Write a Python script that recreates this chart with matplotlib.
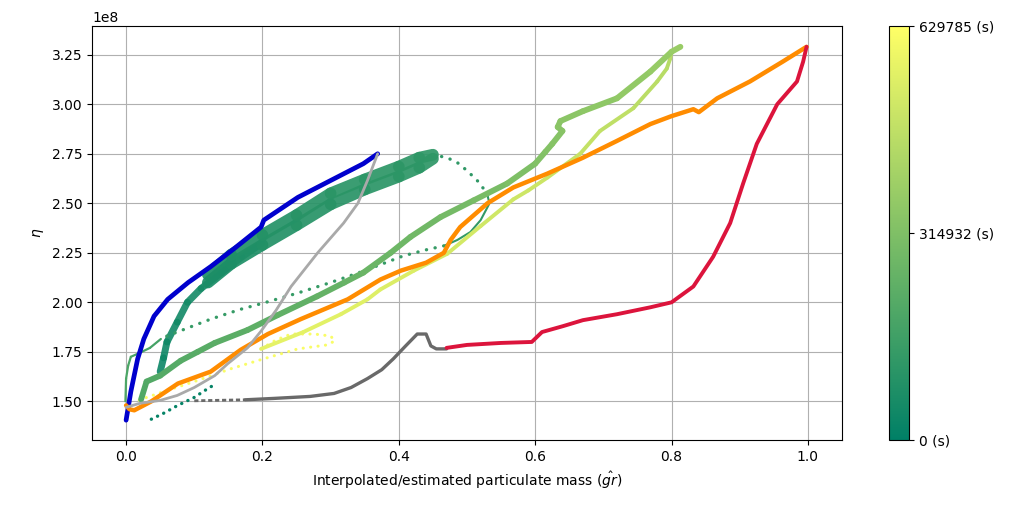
import numpy as np
import matplotlib
matplotlib.use("Agg")
import matplotlib.pyplot as plt
from matplotlib.collections import LineCollection
from matplotlib.colors import Normalize
from matplotlib.cm import ScalarMappable

# time span of the colour scale (s)
T_MAX = 629785
cbar_ticks = [0, 314932, 629785]
cbar_labels = ["0 (s)", "314932 (s)", "629785 (s)"]

# --- fixed-colour runs (x = mass, y = eta / 1e8) ---
blue_x = [0.0, 0.007, 0.017, 0.026, 0.041, 0.061, 0.091, 0.124, 0.158, 0.198, 0.202, 0.252, 0.30, 0.348, 0.369]
blue_y = [1.405, 1.55, 1.715, 1.815, 1.93, 2.015, 2.10, 2.18, 2.27, 2.38, 2.415, 2.53, 2.615, 2.70, 2.75]

lgray_x = [0.0, 0.02, 0.05, 0.075, 0.10, 0.13, 0.149, 0.178, 0.198, 0.22, 0.242, 0.281, 0.319, 0.34, 0.354, 0.369]
lgray_y = [1.47, 1.49, 1.505, 1.53, 1.57, 1.63, 1.69, 1.77, 1.855, 1.96, 2.08, 2.25, 2.40, 2.50, 2.615, 2.75]

dgray_start_x = [0.10, 0.175]
dgray_start_y = [1.503, 1.508]
dgray_x = [0.175, 0.217, 0.27, 0.305, 0.33, 0.354, 0.375, 0.392, 0.41, 0.427, 0.44, 0.447, 0.455, 0.47]
dgray_y = [1.508, 1.515, 1.525, 1.54, 1.57, 1.615, 1.66, 1.715, 1.78, 1.84, 1.84, 1.78, 1.765, 1.765]

red_x = [0.47, 0.50, 0.55, 0.595, 0.61, 0.641, 0.67, 0.72, 0.769, 0.80, 0.832, 0.861, 0.886, 0.905, 0.925, 0.955, 0.984, 0.993, 0.998]
red_y = [1.77, 1.785, 1.795, 1.80, 1.85, 1.88, 1.91, 1.94, 1.975, 2.0, 2.08, 2.23, 2.40, 2.60, 2.80, 3.0, 3.115, 3.215, 3.29]

orange_x = [0.0, 0.005, 0.012, 0.037, 0.076, 0.124, 0.168, 0.208, 0.256, 0.325, 0.373, 0.403, 0.44, 0.466, 0.476,
            0.49, 0.53, 0.568, 0.618, 0.67, 0.72, 0.769, 0.80, 0.832, 0.84, 0.867, 0.915, 0.963, 0.998]
orange_y = [1.48, 1.46, 1.455, 1.50, 1.59, 1.65, 1.76, 1.84, 1.915, 2.015, 2.115, 2.16, 2.20, 2.25, 2.315,
            2.38, 2.50, 2.58, 2.65, 2.73, 2.815, 2.90, 2.94, 2.975, 2.96, 3.03, 3.115, 3.215, 3.29]

# --- runs coloured by elapsed time ---
# A: teal run
a1_x = [0.037, 0.055, 0.076, 0.10, 0.12, 0.13]
a1_y = [1.41, 1.44, 1.48, 1.52, 1.565, 1.585]
a1_t = 15000

a2_x = [0.05, 0.055, 0.06, 0.075, 0.09, 0.11, 0.14, 0.17, 0.20]
a2_y = [1.65, 1.72, 1.80, 1.90, 2.00, 2.07, 2.15, 2.23, 2.30]
a2_t = [30000, 35000, 40000, 45000, 50000, 55000, 60000, 65000, 70000]

a3u_x = [0.12, 0.154, 0.20, 0.25, 0.30, 0.35, 0.40, 0.43, 0.45]
a3u_y = [2.14, 2.24, 2.34, 2.44, 2.55, 2.62, 2.685, 2.73, 2.745]
a3u_t = [70000, 80000, 90000, 100000, 105000, 110000, 113000, 115000, 117000]
a3l_x = [0.12, 0.154, 0.20, 0.25, 0.30, 0.35, 0.40, 0.43, 0.45]
a3l_y = [2.10, 2.195, 2.29, 2.39, 2.495, 2.57, 2.635, 2.68, 2.725]
a3l_t = [65000, 75000, 85000, 95000, 100000, 105000, 110000, 113000, 115000]

a4_x = [0.45, 0.471, 0.486, 0.50, 0.515, 0.524, 0.53]
a4_y = [2.745, 2.73, 2.705, 2.665, 2.615, 2.575, 2.54]
a4_t = 120000

a5_x = [0.53, 0.533, 0.53, 0.52, 0.505, 0.486, 0.466]
a5_y = [2.54, 2.50, 2.48, 2.415, 2.355, 2.315, 2.285]
a5_t = 125000

a6_x = [0.466, 0.44, 0.407, 0.35, 0.30, 0.25, 0.20, 0.168, 0.124, 0.09, 0.06, 0.051]
a6_y = [2.285, 2.265, 2.235, 2.16, 2.10, 2.045, 1.995, 1.965, 1.915, 1.87, 1.83, 1.815]
a6_t = 135000

a7_x = [0.051, 0.035, 0.02, 0.007, 0.003, 0.0, -0.001]
a7_y = [1.815, 1.77, 1.745, 1.725, 1.68, 1.615, 1.50]
a7_t = [170000, 175000, 180000, 185000, 188000, 190000, 192000]

# B: green -> light green -> yellow run
b1_x = [0.022, 0.03, 0.05, 0.08, 0.105, 0.13, 0.178, 0.222, 0.28, 0.32, 0.348, 0.388, 0.417, 0.461, 0.51,
        0.559, 0.60, 0.615, 0.625, 0.64, 0.633, 0.637, 0.67, 0.72, 0.769, 0.80, 0.813]
b1_y = [1.51, 1.60, 1.63, 1.705, 1.75, 1.795, 1.86, 1.935, 2.03, 2.10, 2.15, 2.25, 2.33, 2.43, 2.515,
        2.60, 2.70, 2.76, 2.80, 2.865, 2.885, 2.915, 2.965, 3.03, 3.165, 3.265, 3.29]
b1_t = [200000, 205000, 210000, 215000, 220000, 225000, 232000, 240000, 250000, 258000, 264000, 272000,
        280000, 290000, 300000, 310000, 320000, 325000, 330000, 336000, 340000, 344000, 350000, 360000,
        370000, 378000, 382000]

b2_x = [0.813, 0.80, 0.798, 0.793, 0.779, 0.744, 0.695, 0.666, 0.618, 0.59, 0.568, 0.52, 0.471, 0.422,
        0.373, 0.354, 0.315, 0.26, 0.198]
b2_y = [3.29, 3.265, 3.23, 3.18, 3.115, 2.98, 2.865, 2.75, 2.63, 2.565, 2.52, 2.385, 2.245, 2.16,
        2.065, 2.015, 1.94, 1.85, 1.765]
b2_t = [440000, 445000, 450000, 455000, 460000, 470000, 480000, 490000, 500000, 505000, 510000, 520000,
        530000, 540000, 548000, 552000, 558000, 565000, 572000]

b3_x = [0.198, 0.22, 0.242, 0.276, 0.30, 0.306, 0.295, 0.252, 0.202, 0.154, 0.10, 0.06, 0.026, 0.015]
b3_y = [1.765, 1.81, 1.84, 1.84, 1.83, 1.805, 1.785, 1.765, 1.715, 1.665, 1.60, 1.555, 1.515, 1.50]
b3_t = 615000

cmap = plt.get_cmap("summer")
norm = Normalize(vmin=0, vmax=T_MAX)


def grad_line(ax, x, y, t, lw, alpha=1.0):
    # line coloured segment by segment from the time values
    pts = np.column_stack([x, np.array(y) * 1e8]).reshape(-1, 1, 2)
    segs = np.concatenate([pts[:-1], pts[1:]], axis=1)
    lc = LineCollection(segs, cmap=cmap, norm=norm, linewidths=lw, capstyle="round",
                        joinstyle="round", alpha=alpha)
    lc.set_array(np.array(t[:-1], dtype=float))
    ax.add_collection(lc)


def dot_line(ax, x, y, t, lw, gap=2.6):
    ax.plot(x, np.array(y) * 1e8, color=cmap(norm(t)), lw=lw,
            linestyle=(0, (0.05, gap)), dash_capstyle="round")


fig = plt.figure(figsize=(10.27, 5.09), dpi=100)
ax = fig.add_axes([92 / 1027, 69 / 509, 750 / 1027, 414 / 509])
cax = fig.add_axes([889 / 1027, 69 / 509, 20 / 1027, 414 / 509])

dot_line(ax, a1_x, a1_y, a1_t, 2.4, gap=2.0)
grad_line(ax, a2_x, a2_y, a2_t, 5, alpha=0.9)
grad_line(ax, a3l_x, a3l_y, a3l_t, 8.5, alpha=0.92)
grad_line(ax, a3u_x, a3u_y, a3u_t, 8.5, alpha=0.92)
dot_line(ax, a4_x, a4_y, a4_t, 2.4)
ax.plot(a5_x, np.array(a5_y) * 1e8, color=cmap(norm(a5_t)), lw=1.5)
dot_line(ax, a6_x, a6_y, a6_t, 2.4)
grad_line(ax, a7_x, a7_y, a7_t, 1.6)

dot_line(ax, b3_x, b3_y, b3_t, 2.2, gap=2.4)
grad_line(ax, b2_x, b2_y, b2_t, 2.8)
grad_line(ax, b1_x, b1_y, b1_t, 4.2)

ax.plot(blue_x, np.array(blue_y) * 1e8, color="mediumblue", lw=3.4, solid_capstyle="round")
ax.plot(orange_x, np.array(orange_y) * 1e8, color="darkorange", lw=3.2, solid_capstyle="round")
ax.plot(lgray_x, np.array(lgray_y) * 1e8, color="darkgray", lw=2.0, solid_capstyle="round")
ax.plot(dgray_start_x, np.array(dgray_start_y) * 1e8, color="dimgray", lw=2.0, linestyle=(0, (1.5, 1)))
ax.plot(dgray_x, np.array(dgray_y) * 1e8, color="dimgray", lw=2.4, solid_capstyle="round")
ax.plot(red_x, np.array(red_y) * 1e8, color="crimson", lw=2.8, solid_capstyle="round")

ax.set_xlim(-0.05, 1.05)
ax.set_ylim(1.305e8, 3.395e8)
ax.grid(True)
ax.set_axisbelow(True)
ax.set_xlabel(r"Interpolated/estimated particulate mass ($\hat{gr}$)")
ax.set_ylabel(r"$\eta$")

sm = ScalarMappable(norm=norm, cmap=cmap)
cb = fig.colorbar(sm, cax=cax, ticks=cbar_ticks)
cb.ax.set_yticklabels(cbar_labels)

fig.savefig("out.png", dpi=100)
